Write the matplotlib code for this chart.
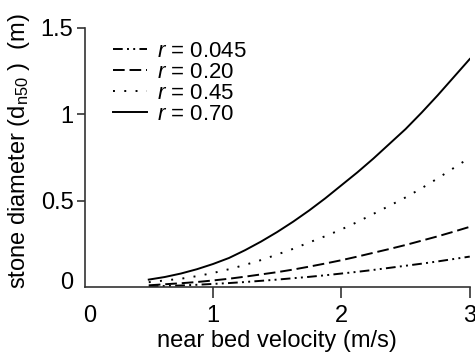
import matplotlib
matplotlib.use("Agg")
import matplotlib.pyplot as plt
import matplotlib.transforms as mtransforms

plt.rcParams['font.family'] = ['Liberation Sans', 'DejaVu Sans']
plt.rcParams['mathtext.fontset'] = 'custom'
plt.rcParams['mathtext.rm'] = 'Liberation Sans'
plt.rcParams['mathtext.it'] = 'Liberation Sans:italic'

velocity = [0.5, 0.625, 0.75, 0.875, 1.0, 1.125, 1.25, 1.375, 1.5, 1.625, 1.75,
            1.875, 2.0, 2.125, 2.25, 2.375, 2.5, 2.625, 2.75, 2.875, 3.0]
d_r045 = [0.005, 0.008, 0.011, 0.015, 0.020, 0.025, 0.031, 0.038, 0.045, 0.053, 0.061,
          0.070, 0.080, 0.090, 0.101, 0.113, 0.125, 0.137, 0.150, 0.164, 0.178]
d_r20 = [0.012, 0.018, 0.024, 0.031, 0.040, 0.050, 0.062, 0.075, 0.088, 0.103, 0.120,
         0.138, 0.157, 0.178, 0.200, 0.222, 0.245, 0.270, 0.295, 0.322, 0.350]
d_r45 = [0.030, 0.040, 0.050, 0.065, 0.083, 0.105, 0.130, 0.158, 0.190, 0.223, 0.260,
         0.296, 0.335, 0.378, 0.425, 0.472, 0.520, 0.573, 0.630, 0.690, 0.750]
d_r70 = [0.045, 0.060, 0.080, 0.105, 0.135, 0.170, 0.215, 0.265, 0.320, 0.380, 0.445,
         0.515, 0.590, 0.665, 0.745, 0.830, 0.915, 1.010, 1.110, 1.215, 1.320]
labels = ['$r$ = 0.045', '$r$ = 0.20', '$r$ = 0.45', '$r$ = 0.70']
xticks = [0, 1, 2, 3]
xticklabels = ['0', '1', '2', '3']
yticks = [0, 0.5, 1, 1.5]
yticklabels = ['0', '0.5', '1', '1.5']

fs = 17
fig = plt.figure(figsize=(4.75, 3.57), dpi=100)
ax = fig.add_axes([0.178, 0.195, 0.811, 0.727])

lw = 1.4
ax.plot(velocity, d_r045, color='black', lw=lw, linestyle=(0, (5, 2.2, 1, 2.2, 1, 2.2)), label=labels[0])
ax.plot(velocity, d_r20, color='black', lw=lw, linestyle=(0, (6, 2.5)), label=labels[1])
ax.plot(velocity, d_r45, color='black', lw=lw, linestyle=(0, (1, 4.8)), label=labels[2])
ax.plot(velocity, d_r70, color='black', lw=lw, linestyle='-', label=labels[3])

ax.set_xlim(0, 3)
ax.set_ylim(0, 1.5)
ax.set_xticks(xticks)
ax.set_xticklabels(xticklabels)
ax.set_yticks(yticks)
ax.set_yticklabels(yticklabels)
ax.spines['top'].set_visible(False)
ax.spines['right'].set_visible(False)
for s in ['left', 'bottom']:
    ax.spines[s].set_linewidth(1.2)
    ax.spines[s].set_color('#333333')
ax.tick_params(axis='x', direction='out', length=8, width=1.2, labelsize=fs, pad=5, color='#333333')
ax.tick_params(axis='y', direction='out', length=6, width=1.2, labelsize=fs, pad=2, color='#333333')
ax.xaxis.get_major_ticks()[0].tick1line.set_visible(False)
ax.yaxis.get_major_ticks()[0].tick1line.set_visible(False)

# small offsets of the "0" labels as in the reference
xl0 = ax.xaxis.get_major_ticks()[0].label1
xl0.set_transform(xl0.get_transform() + mtransforms.ScaledTranslation(4 / 72, 0, fig.dpi_scale_trans))
yl0 = ax.yaxis.get_major_ticks()[0].label1
yl0.set_transform(yl0.get_transform() + mtransforms.ScaledTranslation(0, 5 / 72, fig.dpi_scale_trans))

ax.set_xlabel('near bed velocity (m/s)', fontsize=fs, labelpad=2)
ax.set_ylabel(r'stone diameter (d$_{\mathrm{n50}}$ )  (m)', fontsize=fs)
ax.yaxis.set_label_coords(-0.137, 0.525)

ax.legend(loc='upper left', bbox_to_anchor=(0.04, 1.0), frameon=False, fontsize=16,
          handlelength=1.5, handletextpad=0.45, labelspacing=0.0, borderaxespad=0.2)

fig.savefig('out.png', dpi=100)
